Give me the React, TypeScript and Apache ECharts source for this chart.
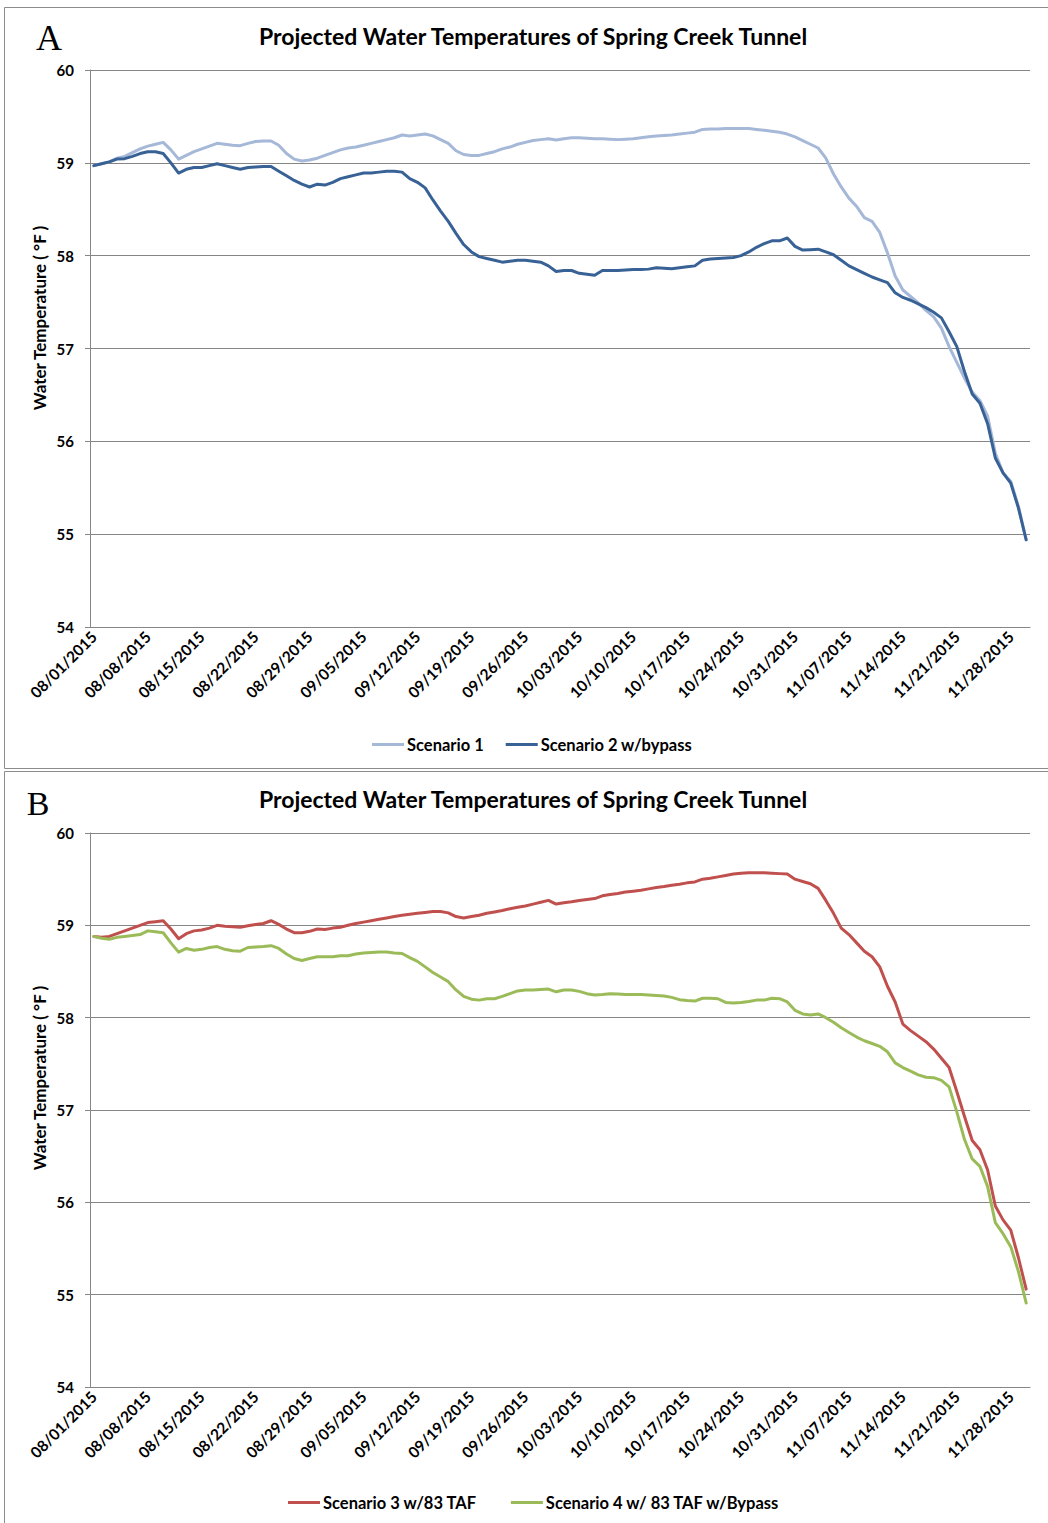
import React, { useEffect, useRef } from "react";
import * as echarts from "echarts";

const FONT = "Lato, 'Open Sans', sans-serif";

const monthDays: number[][] = [[8, 31], [9, 30], [10, 31], [11, 30]];
const dates: string[] = [];
for (const [m, n] of monthDays) {
  for (let d = 1; d <= n; d++) {
    dates.push(`${String(m).padStart(2, "0")}/${String(d).padStart(2, "0")}/2015`);
  }
}

const titleText = "Projected Water Temperatures of Spring Creek Tunnel";
const yName = "Water Temperature ( °F )";
const panelLabels = ["A", "B"];
const seriesNames = ["Scenario 1", "Scenario 2 w/bypass", "Scenario 3 w/83 TAF", "Scenario 4 w/ 83 TAF w/Bypass"];

const scenario1 = [
  58.97, 58.99, 59.01, 59.05, 59.07, 59.11, 59.15, 59.18, 59.2, 59.22,
  59.14, 59.04, 59.08, 59.12, 59.15, 59.18, 59.21, 59.2, 59.19, 59.185,
  59.21, 59.23, 59.235, 59.235, 59.19, 59.1, 59.04, 59.02, 59.03, 59.05,
  59.08, 59.11, 59.14, 59.16, 59.17, 59.19, 59.21, 59.23, 59.25, 59.27,
  59.3, 59.29, 59.3, 59.31, 59.29, 59.25, 59.21, 59.13, 59.09, 59.08,
  59.08, 59.1, 59.12, 59.15, 59.17, 59.2, 59.22, 59.24, 59.25, 59.26,
  59.245, 59.26, 59.27, 59.27, 59.265, 59.26, 59.26, 59.255, 59.25, 59.255,
  59.26, 59.27, 59.28, 59.29, 59.295, 59.3, 59.31, 59.32, 59.33, 59.36,
  59.365, 59.365, 59.37, 59.37, 59.37, 59.37, 59.36, 59.35, 59.34, 59.33,
  59.31, 59.28, 59.24, 59.2, 59.16, 59.05, 58.88, 58.74, 58.62, 58.53,
  58.41, 58.37, 58.25, 58.03, 57.78, 57.63, 57.56, 57.49, 57.41, 57.34,
  57.22, 57.02, 56.85, 56.68, 56.53, 56.44, 56.27, 55.87, 55.66, 55.57,
  55.3, 54.94,
];

const scenario2 = [
  58.97, 58.99, 59.01, 59.04, 59.045, 59.07, 59.1, 59.12, 59.12, 59.1,
  59.0, 58.89, 58.93, 58.95, 58.95, 58.97, 58.99, 58.97, 58.95, 58.93,
  58.95, 58.955, 58.96, 58.96, 58.91, 58.86, 58.81, 58.77, 58.74, 58.77,
  58.76, 58.79, 58.83, 58.85, 58.87, 58.89, 58.89, 58.9, 58.91, 58.91,
  58.9, 58.83, 58.79, 58.73, 58.6, 58.48, 58.37, 58.24, 58.12, 58.04,
  57.99, 57.97, 57.95, 57.93, 57.94, 57.95, 57.95, 57.94, 57.93, 57.89,
  57.83, 57.84, 57.84, 57.81, 57.8, 57.79, 57.84, 57.84, 57.84, 57.845,
  57.85, 57.85, 57.855, 57.87, 57.865, 57.86, 57.87, 57.88, 57.89, 57.95,
  57.965, 57.97, 57.975, 57.98, 58.0, 58.04, 58.09, 58.13, 58.16, 58.16,
  58.19, 58.1, 58.06, 58.065, 58.07, 58.04, 58.01, 57.95, 57.89, 57.85,
  57.81, 57.77, 57.74, 57.71, 57.6, 57.55, 57.52, 57.48, 57.44, 57.39,
  57.33, 57.18, 57.02, 56.75, 56.51, 56.41, 56.19, 55.82, 55.66, 55.55,
  55.28, 54.94,
];

const scenario3 = [
  58.88, 58.87, 58.88, 58.91, 58.94, 58.97, 59.0, 59.03, 59.04, 59.05,
  58.96, 58.855, 58.91, 58.94, 58.95, 58.97, 59.0, 58.99, 58.985, 58.98,
  58.995, 59.01, 59.02, 59.05, 59.01, 58.96, 58.92, 58.92, 58.935, 58.96,
  58.955, 58.97, 58.98, 59.0, 59.02, 59.035, 59.05, 59.065, 59.08, 59.095,
  59.11, 59.12, 59.13, 59.14, 59.15, 59.15, 59.135, 59.095, 59.08, 59.095,
  59.11, 59.13, 59.145, 59.16, 59.18, 59.195, 59.21, 59.23, 59.25, 59.27,
  59.23, 59.245, 59.255, 59.27, 59.28, 59.29, 59.32, 59.335, 59.345, 59.36,
  59.37, 59.38, 59.395, 59.41, 59.42, 59.435, 59.445, 59.46, 59.47, 59.5,
  59.51, 59.525, 59.54, 59.555, 59.565, 59.57, 59.57, 59.57, 59.565, 59.56,
  59.555, 59.5, 59.475, 59.45, 59.4, 59.27, 59.13, 58.97, 58.9, 58.81,
  58.72, 58.66, 58.55, 58.34, 58.17, 57.93, 57.86, 57.8, 57.74, 57.66,
  57.56, 57.46, 57.2, 56.93, 56.67, 56.57, 56.35, 55.96, 55.81, 55.7,
  55.4, 55.06,
];

const scenario4 = [
  58.88, 58.86, 58.85, 58.87, 58.88, 58.89, 58.9, 58.94, 58.93, 58.92,
  58.81, 58.71, 58.75, 58.73, 58.74, 58.76, 58.77, 58.74, 58.725, 58.72,
  58.76, 58.765, 58.77, 58.78, 58.75, 58.69, 58.64, 58.62, 58.64, 58.66,
  58.66, 58.66, 58.67, 58.67, 58.69, 58.7, 58.705, 58.71, 58.71, 58.7,
  58.695, 58.65, 58.61, 58.55, 58.49, 58.44, 58.39, 58.3, 58.23, 58.2,
  58.19, 58.205, 58.205, 58.23, 58.26, 58.29, 58.3, 58.3, 58.305, 58.31,
  58.28, 58.3, 58.3, 58.285, 58.26, 58.245, 58.25, 58.26, 58.255, 58.25,
  58.25, 58.25, 58.245, 58.24, 58.235, 58.22, 58.195, 58.185, 58.18, 58.21,
  58.21, 58.205, 58.165, 58.16, 58.165, 58.175, 58.19, 58.19, 58.21, 58.205,
  58.17, 58.08, 58.04, 58.03, 58.04, 58.0, 57.95, 57.89, 57.84, 57.79,
  57.75, 57.72, 57.69, 57.63, 57.51, 57.46, 57.42, 57.38, 57.355, 57.35,
  57.32, 57.25, 56.98, 56.68, 56.47, 56.39, 56.17, 55.78, 55.66, 55.52,
  55.25, 54.91,
];

const colors = ["#A5B8D8", "#386296", "#C0504D", "#9BBB59"];
const AXIS = "#868686";

function makeX(gridIndex: number) {
  return {
    type: "category",
    gridIndex,
    data: dates,
    boundaryGap: true,
    axisLine: { lineStyle: { color: AXIS, width: 1 } },
    axisTick: { interval: 6, length: 5, lineStyle: { color: AXIS } },
    axisLabel: {
      interval: 6,
      rotate: 45,
      margin: 7,
      fontFamily: FONT,
      fontWeight: "bold",
      fontSize: 15.5,
      color: "#000",
    },
    splitLine: { show: false },
  };
}

function makeY(gridIndex: number) {
  return {
    type: "value",
    gridIndex,
    min: 54,
    max: 60,
    interval: 1,
    axisLine: { show: true, lineStyle: { color: AXIS } },
    axisTick: { show: true, length: 5, lineStyle: { color: AXIS } },
    axisLabel: { margin: 16, fontFamily: FONT, fontWeight: "bold", fontSize: 15, color: "#000" },
    splitLine: { lineStyle: { color: AXIS, width: 1 } },
  };
}

function makeLine(name: string, data: number[], color: string, idx: number) {
  return {
    type: "line",
    name,
    data,
    xAxisIndex: idx,
    yAxisIndex: idx,
    symbol: "none",
    smooth: false,
    lineStyle: { width: 3, color, cap: "round", join: "round" },
    itemStyle: { color },
  };
}

function txt(text: string, x: number, y: number, size: number, opts: any = {}) {
  return {
    type: "text",
    x,
    y,
    rotation: opts.rotation || 0,
    style: {
      text,
      fill: "#000",
      font: `${opts.weight || "bold"} ${size}px ${opts.family || FONT}`,
      align: opts.align || "center",
      verticalAlign: "middle",
      textAlign: opts.align || "center",
      textVerticalAlign: "middle",
    },
  };
}

const legendText = { fontFamily: FONT, fontWeight: "bold", fontSize: 16.5, color: "#000", padding: [0, 0, 0, -2] };

export default function App() {
  const ref = useRef<HTMLDivElement>(null);
  useEffect(() => {
    if (!ref.current) return;
    const chart = echarts.init(ref.current, undefined, { renderer: "svg" });
    chart.setOption({
      animation: false,
      backgroundColor: "#fff",
      grid: [
        { left: 90, top: 70, width: 940, height: 557, containLabel: false },
        { left: 90, top: 833, width: 940, height: 554, containLabel: false },
      ],
      xAxis: [makeX(0), makeX(1)],
      yAxis: [makeY(0), makeY(1)],
      legend: [
        {
          data: [seriesNames[0], seriesNames[1]],
          left: 367,
          top: 731,
          icon: "rect",
          itemWidth: 32,
          itemHeight: 3,
          itemGap: 22,
          textStyle: legendText,
        },
        {
          data: [seriesNames[2], seriesNames[3]],
          left: 283,
          top: 1489,
          icon: "rect",
          itemWidth: 32,
          itemHeight: 3,
          itemGap: 34,
          textStyle: legendText,
        },
      ],
      series: [
        makeLine(seriesNames[0], scenario1, colors[0], 0),
        makeLine(seriesNames[1], scenario2, colors[1], 0),
        makeLine(seriesNames[2], scenario3, colors[2], 1),
        makeLine(seriesNames[3], scenario4, colors[3], 1),
      ],
      graphic: [
        { type: "rect", shape: { x: 4.5, y: 7.5, width: 1060, height: 761 }, style: { fill: "none", stroke: "#8c8c8c", lineWidth: 1 }, silent: true },
        { type: "rect", shape: { x: 4.5, y: 771.5, width: 1060, height: 800 }, style: { fill: "none", stroke: "#8c8c8c", lineWidth: 1 }, silent: true },
        txt(panelLabels[0], 49, 38, 36, { weight: "normal", family: "'Liberation Serif', 'DejaVu Serif', serif" }),
        txt(panelLabels[1], 38, 803, 34, { weight: "normal", family: "'Liberation Serif', 'DejaVu Serif', serif" }),
        txt(titleText, 533, 36, 23),
        txt(titleText, 533, 799, 23),
        txt(yName, 39, 318, 17, { rotation: Math.PI / 2 }),
        txt(yName, 39, 1078, 17, { rotation: Math.PI / 2 }),
      ],
    });
    return () => chart.dispose();
  }, []);
  return (
    <div
      ref={ref}
      style={{ position: "absolute", left: 0, top: 0, width: 1048, height: 1523, background: "#fff" }}
    />
  );
}
